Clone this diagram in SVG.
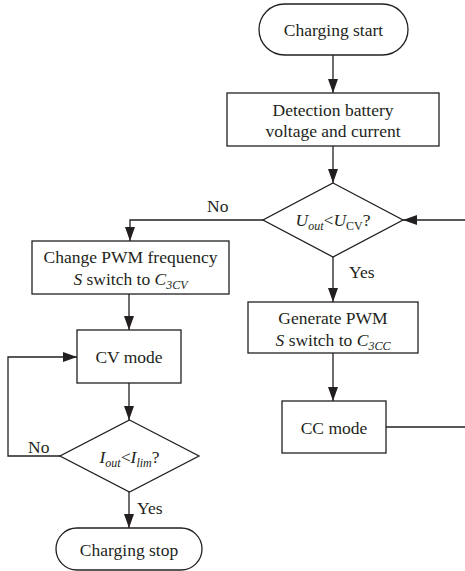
<svg xmlns="http://www.w3.org/2000/svg" width="465" height="571" viewBox="0 0 465 571">
<style>
.s{fill:#fff;stroke:#231f20;stroke-width:1.3}
.c{fill:none;stroke:#231f20;stroke-width:1.3}
.m{text-anchor:middle}
.i{font-style:italic}
.sub{font-size:12px}
</style>
<defs>
<marker id="a" markerUnits="userSpaceOnUse" markerWidth="14" markerHeight="10" refX="14" refY="5" orient="auto">
<path d="M0,0 L14,5 L0,10 z" fill="#231f20"/>
</marker>
</defs>
<g font-family="Liberation Serif, Tinos, Times New Roman, DejaVu Serif, serif" font-size="17.5" fill="#231f20">
<g id="connectors">
<line class="c" x1="333" y1="55" x2="333" y2="93" marker-end="url(#a)"/>
<line class="c" x1="333" y1="146" x2="333" y2="183" marker-end="url(#a)"/>
<polyline class="c" points="263,220 130,220 130,241" marker-end="url(#a)"/>
<line class="c" x1="465" y1="220" x2="403" y2="220" marker-end="url(#a)"/>
<line class="c" x1="333" y1="257" x2="333" y2="302" marker-end="url(#a)"/>
<line class="c" x1="333" y1="353" x2="333" y2="401" marker-end="url(#a)"/>
<line class="c" x1="386" y1="427" x2="465" y2="427"/>
<line class="c" x1="129" y1="294" x2="129" y2="330" marker-end="url(#a)"/>
<line class="c" x1="129" y1="383" x2="129" y2="420" marker-end="url(#a)"/>
<polyline class="c" points="60,456 8,456 8,357 77,357" marker-end="url(#a)"/>
<line class="c" x1="129" y1="492" x2="129" y2="528" marker-end="url(#a)"/>
<text x="207" y="212">No</text>
<text x="349" y="278">Yes</text>
<text x="28" y="453">No</text>
<text x="137" y="514">Yes</text>
</g>
<g id="start">
<rect class="s" x="259" y="4" width="149" height="51" rx="25.5"/>
<text class="m" x="333.5" y="36">Charging start</text>
</g>
<g id="detect">
<rect class="s" x="227" y="93" width="212" height="53"/>
<text class="m" x="333" y="116">Detection battery</text>
<text class="m" x="333" y="137">voltage and current</text>
</g>
<g id="cond1">
<polygon class="s" points="333,183 403,220 333,257 263,220"/>
<text class="m" x="333" y="226"><tspan class="i">U</tspan><tspan class="i sub" dy="4">out</tspan><tspan dy="-4">&lt;</tspan><tspan class="i">U</tspan><tspan class="sub" dy="4">CV</tspan><tspan dy="-4">?</tspan></text>
</g>
<g id="changepwm">
<rect class="s" x="32" y="241" width="197" height="53"/>
<text class="m" x="130.5" y="263">Change PWM frequency</text>
<text class="m" x="130.5" y="285"><tspan class="i">S</tspan> switch to <tspan class="i">C</tspan><tspan class="i sub" dy="4">3CV</tspan></text>
</g>
<g id="cvmode">
<rect class="s" x="77" y="330" width="104" height="53"/>
<text class="m" x="129" y="363">CV mode</text>
</g>
<g id="cond2">
<polygon class="s" points="129.5,420 199,456 129.5,492 60,456"/>
<text class="m" x="129.5" y="463"><tspan class="i">I</tspan><tspan class="i sub" dy="4">out</tspan><tspan dy="-4">&lt;</tspan><tspan class="i">I</tspan><tspan class="i sub" dy="4">lim</tspan><tspan dy="-4">?</tspan></text>
</g>
<g id="stop">
<rect class="s" x="56" y="528" width="146" height="42" rx="21"/>
<text class="m" x="129" y="556">Charging stop</text>
</g>
<g id="genpwm">
<rect class="s" x="248" y="302" width="170" height="51"/>
<text class="m" x="333" y="324">Generate PWM</text>
<text class="m" x="333" y="346"><tspan class="i">S</tspan> switch to <tspan class="i">C</tspan><tspan class="i sub" dy="4">3CC</tspan></text>
</g>
<g id="ccmode">
<rect class="s" x="282" y="401" width="104" height="52"/>
<text class="m" x="334" y="434">CC mode</text>
</g>
</g>
</svg>
